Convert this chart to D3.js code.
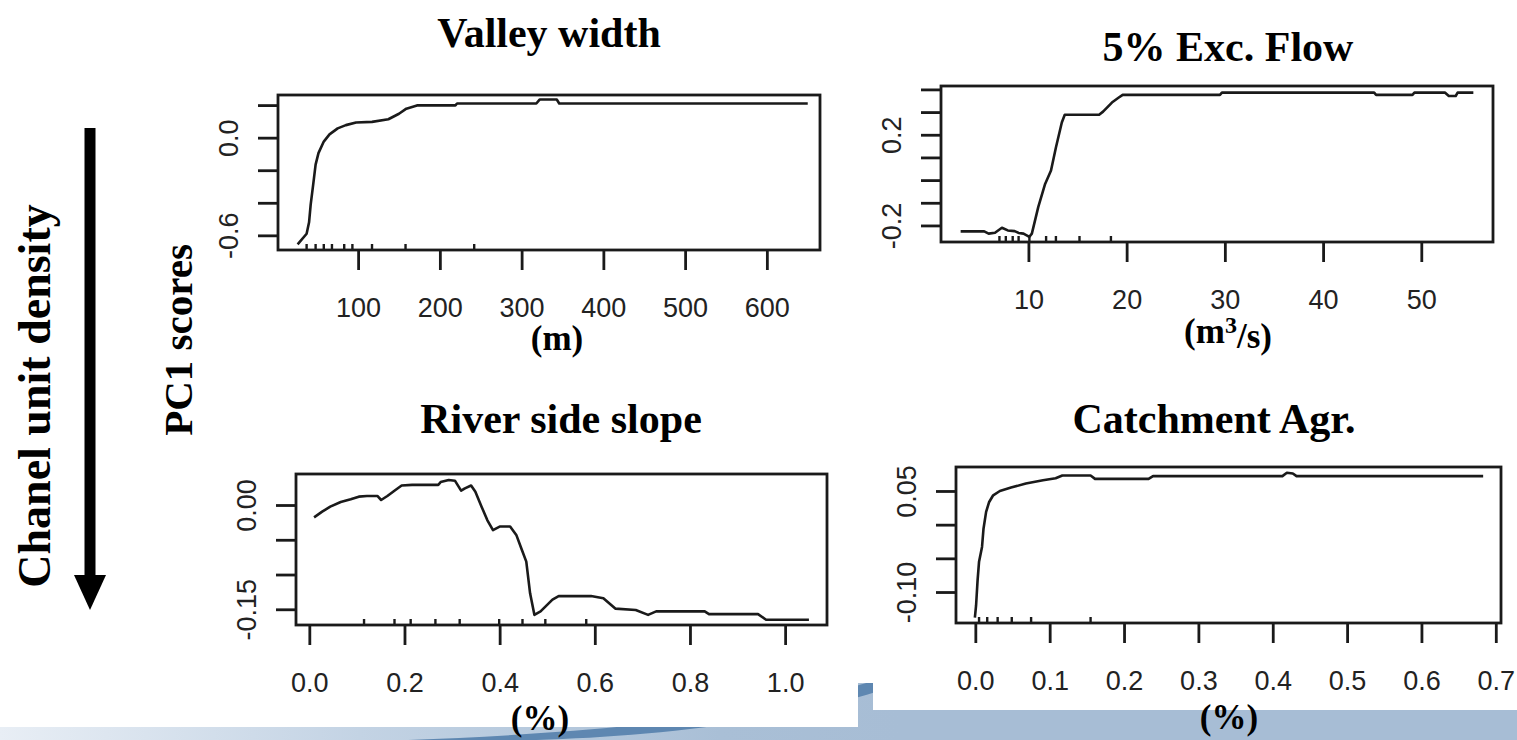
<!DOCTYPE html>
<html>
<head>
<meta charset="utf-8">
<script src="https://cdn.jsdelivr.net/npm/d3@7"></script>
<style>
  html, body { margin: 0; padding: 0; background: #ffffff; }
  svg { display: block; }
  .tick text { font-family: "Liberation Sans", Arial, sans-serif; font-size: 27px; fill: #222; }
  .serif { font-family: "Liberation Serif", "Times New Roman", serif; font-weight: bold; fill: #000; }
</style>
</head>
<body>
<svg id="fig" width="1517" height="740"></svg>
<script>
// ---- Partial dependence of PC1 scores on four predictors ----

// Valley width (m)
const valleyWidthX = [26, 37, 40, 42, 45, 48, 51.5, 58, 65, 75, 85, 97.5, 117, 137, 150, 159, 172, 219, 221, 318, 322, 343, 346, 650];
const valleyWidthY = [-0.655, -0.59, -0.52, -0.41, -0.29, -0.166, -0.095, -0.024, 0.02, 0.057, 0.077, 0.093, 0.097, 0.113, 0.147, 0.178, 0.198, 0.198, 0.21, 0.21, 0.234, 0.234, 0.21, 0.21];
const valleyWidthRug = [37, 48, 58, 68, 83, 93, 117, 158, 242];
const valleyWidthXTicks = [100, 200, 300, 400, 500, 600];
const valleyWidthYTicks = [-0.6, -0.4, -0.2, 0.0, 0.2];
const valleyWidthYLabels = ["-0.6", "0.0"];

// 5% exceedance flow (m3/s)
const flowX = [3.1, 5.5, 5.95, 6.6, 7.3, 7.9, 8.6, 9.0, 9.5, 10.1, 10.35, 11.0, 11.7, 12.3, 12.8, 13.4, 13.7, 17.2, 17.6, 18.5, 19.2, 19.6, 29.5, 29.7, 45.2, 45.4, 49.1, 49.3, 52.4, 52.8, 53.5, 53.7, 55.3];
const flowY = [-0.226, -0.226, -0.236, -0.232, -0.21, -0.222, -0.225, -0.233, -0.236, -0.25, -0.236, -0.119, -0.017, 0.042, 0.144, 0.254, 0.288, 0.288, 0.302, 0.342, 0.364, 0.376, 0.376, 0.386, 0.386, 0.376, 0.376, 0.386, 0.386, 0.371, 0.371, 0.386, 0.386];
const flowRug = [7.05, 7.7, 8.4, 9.0, 10.1, 11.8, 12.8, 15.2, 18.4];
const flowXTicks = [10, 20, 30, 40, 50];
const flowYTicks = [-0.2, -0.1, 0.0, 0.1, 0.2, 0.3, 0.4];
const flowYLabels = ["-0.2", "0.2"];

// River side slope (%)
const slopeX = [0.010, 0.027, 0.044, 0.066, 0.087, 0.104, 0.121, 0.143, 0.151, 0.164, 0.181, 0.194, 0.216, 0.271, 0.276, 0.293, 0.306, 0.319, 0.327, 0.340, 0.349, 0.362, 0.374, 0.386, 0.400, 0.422, 0.435, 0.447, 0.456, 0.464, 0.473, 0.486, 0.511, 0.524, 0.592, 0.618, 0.643, 0.686, 0.712, 0.729, 0.831, 0.840, 0.943, 0.960, 1.050];
const slopeY = [-0.0177, -0.0096, -0.0024, 0.0043, 0.0082, 0.012, 0.013, 0.013, 0.0072, 0.013, 0.0216, 0.028, 0.029, 0.029, 0.033, 0.036, 0.035, 0.0206, 0.024, 0.028, 0.019, -0.0024, -0.0216, -0.036, -0.031, -0.031, -0.043, -0.065, -0.0815, -0.127, -0.158, -0.153, -0.136, -0.131, -0.131, -0.134, -0.149, -0.151, -0.158, -0.153, -0.153, -0.157, -0.157, -0.165, -0.165];
const slopeRug = [0.115, 0.179, 0.213, 0.265, 0.316, 0.399, 0.448, 0.496, 0.582];
const slopeXTicks = [0.0, 0.2, 0.4, 0.6, 0.8, 1.0];
const slopeYTicks = [-0.15, -0.10, -0.05, 0.00];
const slopeYLabels = ["-0.15", "0.00"];

// Catchment agriculture (%)
const agrX = [-0.0006, 0.001, 0.003, 0.005, 0.009, 0.011, 0.0145, 0.0186, 0.024, 0.033, 0.048, 0.068, 0.091, 0.108, 0.117, 0.155, 0.161, 0.233, 0.239, 0.413, 0.419, 0.427, 0.432, 0.683];
const agrY = [-0.138, -0.12, -0.083, -0.055, -0.033, -0.006, 0.019, 0.0337, 0.0436, 0.05, 0.055, 0.061, 0.066, 0.069, 0.073, 0.073, 0.068, 0.068, 0.072, 0.072, 0.077, 0.076, 0.072, 0.072];
const agrRug = [0.005, 0.016, 0.030, 0.049, 0.075, 0.155];
const agrXTicks = [0.0, 0.1, 0.2, 0.3, 0.4, 0.5, 0.6, 0.7];
const agrYTicks = [-0.10, -0.05, 0.00, 0.05];
const agrYLabels = ["-0.10", "0.05"];

const svg = d3.select("#fig");
const INK = "#1a1a1a";
// plain hyphen for negative numbers, as in the axis labels
const loc = d3.formatLocale({ decimal: ".", thousands: ",", grouping: [3], currency: ["", ""], minus: "-" });

// ---- slide background: blue wave along the bottom edge ----
const defs = svg.append("defs");
const grad = defs.append("linearGradient")
  .attr("id", "band").attr("gradientUnits", "userSpaceOnUse")
  .attr("x1", 0).attr("y1", 0).attr("x2", 900).attr("y2", 0);
grad.append("stop").attr("offset", 0).attr("stop-color", "#e8eef5");
grad.append("stop").attr("offset", 0.4).attr("stop-color", "#c3d3e4");
grad.append("stop").attr("offset", 0.8).attr("stop-color", "#a9bfd6");
grad.append("stop").attr("offset", 1).attr("stop-color", "#a7bdd5");

svg.append("rect").attr("x", 0).attr("y", 660).attr("width", 1517).attr("height", 80)
  .attr("fill", "url(#band)");
svg.append("path")
  .attr("d", "M 380 741 C 560 735, 760 722, 900 672 L 900 684 C 760 733, 580 741, 470 741 Z")
  .attr("fill", "#5e87b1");

// white panels pasted over the slide
svg.append("rect").attr("x", 0).attr("y", 0).attr("width", 858).attr("height", 727).attr("fill", "#fff");
svg.append("rect").attr("x", 873).attr("y", 0).attr("width", 644).attr("height", 710).attr("fill", "#fff");
svg.append("rect").attr("x", 858).attr("y", 0).attr("width", 15).attr("height", 683).attr("fill", "#fff");

// ---- panel definitions ----
const panels = [
  { title: "Valley width", unit: "(m)", x: valleyWidthX, y: valleyWidthY, rug: valleyWidthRug,
    xTicks: valleyWidthXTicks, yTicks: valleyWidthYTicks, yLabels: valleyWidthYLabels,
    xFmt: loc.format("d"), yFmt: loc.format(".1f"),
    box: { x0: 278, x1: 820, y0: 95, y1: 250 }, xDomain: [2, 665], yDomain: [-0.69, 0.262],
    titlePos: [549, 32], unitPos: [557, 338] },
  { title: "5% Exc. Flow", unit: "(m3/s)", x: flowX, y: flowY, rug: flowRug,
    xTicks: flowXTicks, yTicks: flowYTicks, yLabels: flowYLabels,
    xFmt: loc.format("d"), yFmt: loc.format(".1f"),
    box: { x0: 941, x1: 1493, y0: 86, y1: 242 }, xDomain: [1.1, 57.3], yDomain: [-0.273, 0.415],
    titlePos: [1228, 46], unitPos: [1228, 331] },
  { title: "River side slope", unit: "(%)", x: slopeX, y: slopeY, rug: slopeRug,
    xTicks: slopeXTicks, yTicks: slopeYTicks, yLabels: slopeYLabels,
    xFmt: loc.format(".1f"), yFmt: loc.format(".2f"),
    box: { x0: 296, x1: 827, y0: 474, y1: 625 }, xDomain: [-0.028, 1.088], yDomain: [-0.1726, 0.0446],
    titlePos: [561, 418], unitPos: [540, 718] },
  { title: "Catchment Agr.", unit: "(%)", x: agrX, y: agrY, rug: agrRug,
    xTicks: agrXTicks, yTicks: agrYTicks, yLabels: agrYLabels,
    xFmt: loc.format(".1f"), yFmt: loc.format(".2f"),
    box: { x0: 956, x1: 1501, y0: 467, y1: 623 }, xDomain: [-0.026, 0.707], yDomain: [-0.146, 0.0856],
    titlePos: [1214, 418], unitPos: [1229, 717] }
];

const TICK = 20;
const STROKE = 2.8;

panels.forEach(p => {
  const g = svg.append("g");
  const xs = d3.scaleLinear().domain(p.xDomain).range([p.box.x0, p.box.x1]);
  const ys = d3.scaleLinear().domain(p.yDomain).range([p.box.y1, p.box.y0]);

  // x axis
  const xa = g.append("g").attr("transform", `translate(0,${p.box.y1})`)
    .call(d3.axisBottom(xs).tickValues(p.xTicks).tickFormat(p.xFmt)
      .tickSize(TICK).tickSizeOuter(0).tickPadding(28));
  xa.select(".domain").remove();
  xa.selectAll(".tick line").attr("stroke", INK).attr("stroke-width", STROKE);

  // y axis, labels parallel to the axis; only some ticks carry a label
  const ya = g.append("g").attr("transform", `translate(${p.box.x0},0)`)
    .call(d3.axisLeft(ys).tickValues(p.yTicks)
      .tickFormat(d => { const s = p.yFmt(d); return p.yLabels.includes(s) ? s : ""; })
      .tickSize(TICK).tickSizeOuter(0));
  ya.select(".domain").remove();
  ya.selectAll(".tick line").attr("stroke", INK).attr("stroke-width", STROKE);
  ya.selectAll(".tick text")
    .attr("x", 0).attr("y", -49).attr("dy", "0.35em")
    .attr("text-anchor", "middle").attr("transform", "rotate(-90)");

  // rug marks along the bottom edge
  g.append("g").selectAll("line").data(p.rug).join("line")
    .attr("x1", d => xs(d)).attr("x2", d => xs(d))
    .attr("y1", p.box.y1).attr("y2", p.box.y1 - 6)
    .attr("stroke", INK).attr("stroke-width", 2.4);

  // partial dependence curve
  const pts = p.x.map((v, i) => [v, p.y[i]]);
  g.append("path").datum(pts)
    .attr("d", d3.line().x(d => xs(d[0])).y(d => ys(d[1])))
    .attr("fill", "none").attr("stroke", INK).attr("stroke-width", 2.6)
    .attr("stroke-linejoin", "round");

  // plot frame
  g.append("rect")
    .attr("x", p.box.x0).attr("y", p.box.y0)
    .attr("width", p.box.x1 - p.box.x0).attr("height", p.box.y1 - p.box.y0)
    .attr("fill", "none").attr("stroke", INK).attr("stroke-width", STROKE);

  // title
  g.append("text").attr("class", "serif")
    .attr("x", p.titlePos[0]).attr("y", p.titlePos[1]).attr("dy", "0.35em")
    .attr("text-anchor", "middle").attr("font-size", 42).text(p.title);

  // unit label
  const u = g.append("text").attr("class", "serif")
    .attr("x", p.unitPos[0]).attr("y", p.unitPos[1]).attr("dy", "0.35em")
    .attr("text-anchor", "middle").attr("font-size", 35);
  if (p.unit === "(m3/s)") {
    u.append("tspan").text("(m");
    u.append("tspan").attr("dy", "-0.42em").attr("font-size", 24).text("3");
    u.append("tspan").attr("dy", "0.42em").text("/s)");
  } else {
    u.text(p.unit);
  }
});

// ---- shared axis labels on the left ----
svg.append("text").attr("class", "serif")
  .attr("transform", "translate(34,396) rotate(-90)").attr("dy", "0.35em")
  .attr("text-anchor", "middle").attr("font-size", 46).text("Chanel unit density");

svg.append("line")
  .attr("x1", 90).attr("x2", 90).attr("y1", 128).attr("y2", 578)
  .attr("stroke", "#000").attr("stroke-width", 11);
svg.append("path")
  .attr("d", "M 74 575 L 106 575 L 90 610 Z").attr("fill", "#000");

svg.append("text").attr("class", "serif")
  .attr("transform", "translate(178,340) rotate(-90)").attr("dy", "0.35em")
  .attr("text-anchor", "middle").attr("font-size", 41).text("PC1 scores");
</script>
</body>
</html>
